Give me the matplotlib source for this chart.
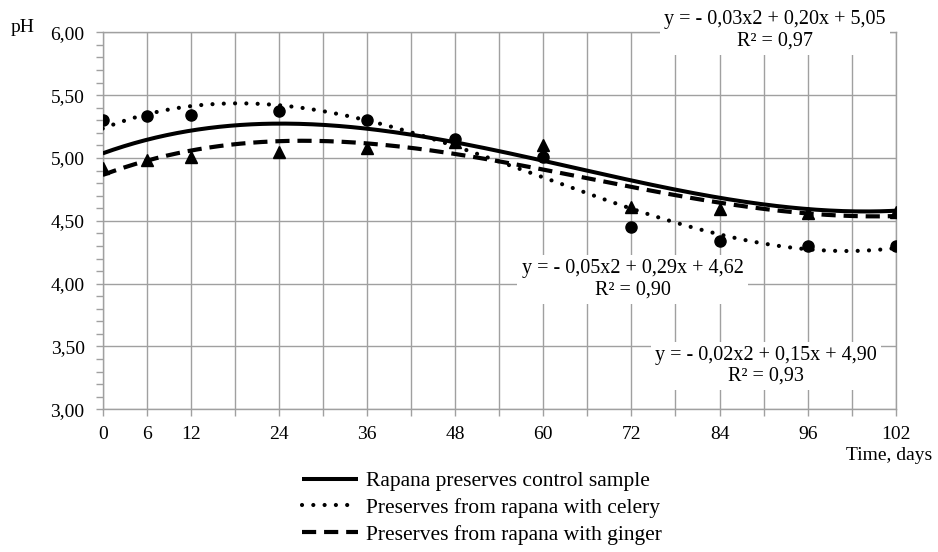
import numpy as np
import matplotlib.pyplot as plt

plt.rcParams['font.family'] = ['Liberation Serif', 'DejaVu Serif']

# storage time, days, and the category slot each label sits on (19 slots on the axis)
days = [0, 6, 12, 24, 36, 48, 60, 72, 84, 96, 102]
slot = [0, 1, 2, 4, 6, 8, 10, 12, 14, 16, 18]
n_slots = 19

control = [5.04, 5.15, 5.21, 5.26, 5.235, 5.14, 4.99, 4.80, 4.68, 4.60, 4.58]
celery = [5.30, 5.335, 5.34, 5.37, 5.30, 5.15, 5.01, 4.45, 4.34, 4.30, 4.30]
ginger = [4.92, 4.98, 5.01, 5.05, 5.08, 5.13, 5.10, 4.61, 4.59, 4.56, 4.57]

labels = ['Rapana preserves control sample',
          'Preserves from rapana with celery',
          'Preserves from rapana with ginger']
equations = ['y = - 0,03x2 + 0,20x + 5,05\nR² = 0,97',
             'y = - 0,05x2 + 0,29x + 4,62\nR² = 0,90',
             'y = - 0,02x2 + 0,15x + 4,90\nR² = 0,93']

fig = plt.figure(figsize=(9.38, 5.52), dpi=100)
ax = fig.add_axes([0.1095, 0.2585, 0.8455, 0.683])

grid_c = '#a0a0a0'
xs = np.linspace(0, n_slots - 1, 300)


def trend(vals):
    coef = np.polyfit(slot, vals, 3)
    return np.polyval(coef, xs)


l1, = ax.plot(xs, trend(control), color='black', lw=2.9, solid_capstyle='butt', zorder=4)
l2, = ax.plot(xs, trend(celery), color='black', lw=3, ls=(0, (0.01, 2.7)),
              dash_capstyle='round', zorder=4)
l3, = ax.plot(xs, trend(ginger), color='black', lw=3, ls=(0, (3.4, 1.9)),
              dash_capstyle='butt', zorder=4)

ax.plot(slot, ginger, ls='none', marker='^', ms=9, color='black', zorder=5)
ax.plot(slot, celery, ls='none', marker='o', ms=8, color='black', zorder=5)

ax.set_xlim(0, n_slots - 1)
ax.set_ylim(3.0, 6.0)
ax.set_xticks(range(n_slots))
tick_labels = [''] * n_slots
for s, d in zip(slot, days):
    tick_labels[s] = str(d)
ax.set_xticklabels(tick_labels)
yt = np.arange(3.0, 6.01, 0.5)
ax.set_yticks(yt)
ax.set_yticklabels([('%.2f' % v).replace('.', ',') for v in yt])
ax.set_yticks(np.arange(3.0, 6.01, 0.1), minor=True)

ax.grid(True, which='major', color=grid_c, lw=1.0)
ax.set_axisbelow(True)
for sp in ax.spines.values():
    sp.set_color(grid_c)
    sp.set_linewidth(1.0)
ax.tick_params(axis='both', which='both', direction='out', color=grid_c, width=1.0,
               length=5, labelsize=14, labelcolor='black')
ax.tick_params(axis='y', pad=8)
ax.tick_params(axis='x', pad=7)

fig.text(0.024, 0.950, 'pH', fontsize=14, ha='center', va='center')
fig.text(0.994, 0.175, 'Time, days', fontsize=14, ha='right', va='center')

box = dict(facecolor='white', edgecolor='none', pad=3)
eq_pos = [(0.848, 1.005), (0.668, 0.345), (0.836, 0.115)]
for txt, (px, py) in zip(equations, eq_pos):
    ax.text(px, py, txt, transform=ax.transAxes, fontsize=14.5, ha='center', va='center',
            multialignment='center', linespacing=1.15, bbox=box, zorder=3, clip_on=False)

fig.legend([l1, l2, l3], labels, loc='upper left', bbox_to_anchor=(0.322, 0.146),
           frameon=False, fontsize=15.5, handlelength=2.6, handletextpad=0.35,
           labelspacing=0.3, borderpad=0, borderaxespad=0)

plt.savefig('out.png', dpi=100)
